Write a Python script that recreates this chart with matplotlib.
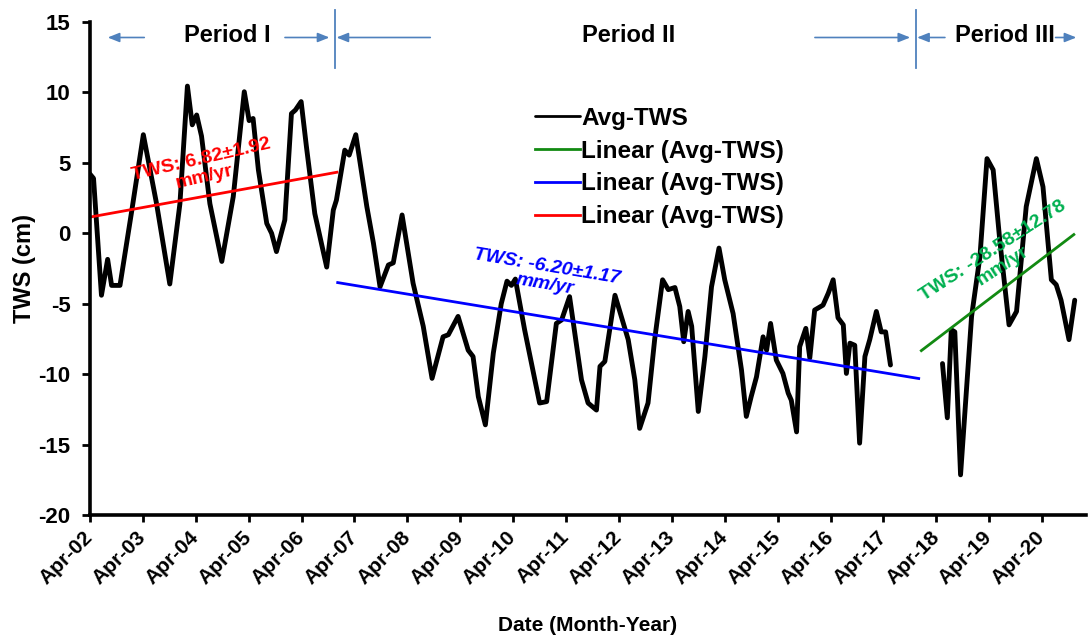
import matplotlib
matplotlib.use("Agg")
import matplotlib.pyplot as plt
import numpy as np

plt.rcParams['font.family'] = ['Liberation Sans', 'DejaVu Sans']
plt.rcParams['font.weight'] = 'bold'

# ---- Data: months since Apr-2002 and average TWS (cm) ----
grace_months = [0, 0.8, 2.6, 4.0, 4.9, 6.8, 9.5, 12.1, 15.1, 18.1, 20.4, 22.1, 23.2, 24.2,
                25.3, 27.2, 29.9, 32.5, 35.0, 36.1, 37.0, 38.2, 40.1, 41.2, 42.3, 44.2,
                45.7, 46.6, 47.9, 49.1, 51.0, 53.7, 55.2, 55.9, 57.8, 58.8, 60.3, 62.8,
                64.3, 65.8, 67.7, 68.8, 70.8, 73.3, 75.6, 77.6, 80.1, 81.3, 83.5, 85.8,
                86.9, 88.1, 89.7, 91.5, 93.3, 94.6, 95.6, 96.5, 98.6, 102.0, 103.6,
                105.8, 107.0, 108.8, 111.5, 113.0, 114.9, 115.7, 116.8, 119.1, 122.1,
                123.6, 124.7, 126.6, 128.1, 129.9, 131.2, 132.7, 133.8, 134.7, 135.7,
                136.5, 138.0, 139.5, 141.0, 142.7, 144.0, 145.9, 147.8, 148.9, 150.0,
                151.2, 152.7, 153.5, 154.4, 155.7, 157.2, 158.4, 159.1, 160.3, 161.0,
                162.4, 163.3, 164.4, 166.3, 167.5, 168.6, 169.7, 170.9, 171.6, 172.4,
                173.5, 174.6, 175.8, 176.9, 178.4, 179.5, 180.5, 181.6]
grace_tws = [4.2, 3.9, -4.4, -1.85, -3.7, -3.7, 1.65, 7.0, 2.1, -3.6, 2.1, 10.45, 7.7, 8.4,
             6.9, 2.1, -2.0, 2.6, 10.05, 8.0, 8.15, 4.5, 0.7, 0.0, -1.3, 0.95,
             8.5, 8.75, 9.35, 6.15, 1.4, -2.4, 1.65, 2.35, 5.9, 5.55, 7.0, 1.9,
             -0.7, -3.8, -2.25, -2.1, 1.3, -3.55, -6.6, -10.3, -7.35, -7.2, -5.9, -8.3,
             -8.75, -11.6, -13.6, -8.5, -5.0, -3.4, -3.7, -3.25, -6.85, -12.05, -11.95,
             -6.4, -6.15, -4.5, -10.4, -12.05, -12.55, -9.45, -9.1, -4.4, -7.55,
             -10.4, -13.85, -12.05, -7.55, -3.3, -4.0, -3.85, -5.2, -7.7, -5.55,
             -6.6, -12.65, -8.75, -3.8, -1.05, -3.3, -5.7, -9.7, -13.0, -11.6,
             -10.2, -7.35, -8.3, -6.4, -9.0, -9.95, -11.35, -11.85, -14.1, -8.05,
             -6.75, -8.85, -5.45, -5.1, -4.25, -3.3, -6.0, -6.5, -9.95, -7.8,
             -7.95, -14.9, -8.75, -7.55, -5.55, -7.0, -7.0, -9.35]

fo_months = [193.4, 194.5, 195.4, 196.2, 197.5, 200.0, 201.9, 203.5, 204.9, 206.4,
             208.5, 210.2, 212.4, 214.7, 216.2, 218.1, 219.2, 220.3, 222.1, 223.4]
fo_tws = [-9.25, -13.1, -6.85, -7.0, -17.15, -5.9, -1.65, 5.3, 4.5, -0.5,
          -6.5, -5.55, 1.9, 5.3, 3.3, -3.3, -3.65, -4.75, -7.55, -4.75]

# Linear trends per period: (start year, end year, start value cm, rate mm/yr)
trend_red = (0.0, 4.667, 1.15, 6.82)
trend_blue = (4.683, 15.667, -3.5, -6.20)
trend_green = (15.717, 18.6, -8.33, 28.58)

trend_text_red = "TWS: 6.82\u00b11.92\nmm/yr"
trend_text_blue = "TWS: -6.20\u00b11.17\nmm/yr"
trend_text_green = "TWS: -28.58\u00b112.78\nmm/yr"

year_labels = ["Apr-%02d" % y for y in range(2, 21)]
y_ticks = [-20, -15, -10, -5, 0, 5, 10, 15]

period_names = ["Period I", "Period II", "Period III"]
period_centers = [2.60, 10.18, 17.29]
period_breaks = [4.63, 15.61]

# ---- Figure ----
fig = plt.figure(figsize=(10.88, 6.44), dpi=100)
ax = fig.add_axes([90/1088, 1 - 515/644, (1086 - 90)/1088, (515 - 22)/644])

x1 = np.array(grace_months) / 12.0
x3 = np.array(fo_months) / 12.0
l_avg, = ax.plot(x1, grace_tws, color='black', lw=3.5, solid_joinstyle='round',
                 solid_capstyle='round', label='Avg-TWS')
ax.plot(x3, fo_tws, color='black', lw=3.5, solid_joinstyle='round', solid_capstyle='round')


def trend_line(t, color):
    xs = np.array([t[0], t[1]])
    ys = t[2] + t[3] / 10.0 * (xs - t[0])
    line, = ax.plot(xs, ys, color=color, lw=2.0, label='Linear (Avg-TWS)')
    return line


l_green = trend_line(trend_green, '#128A12')
l_blue = trend_line(trend_blue, '#0000FF')
l_red = trend_line(trend_red, '#FF0000')

ax.text(2.13, 4.6, trend_text_red, color='#FF0000', fontsize=14, fontweight='bold',
        rotation=13, ha='center', va='center', rotation_mode='anchor',
        multialignment='center', linespacing=1.05)
ax.text(8.62, -3.03, trend_text_blue, color='#0000FF', fontsize=14, fontweight='bold',
        fontstyle='italic', rotation=-9.5, ha='center', va='center', rotation_mode='anchor',
        multialignment='center', linespacing=1.05)
ax.text(17.16, -1.76, trend_text_green, color='#00B050', fontsize=14, fontweight='bold',
        rotation=33, ha='center', va='center', rotation_mode='anchor',
        multialignment='center', linespacing=1.05)

# ---- Period annotations ----
arrow_col = '#4F81BD'
arrow_y = 13.9
arrows = [(1.026, 0.335), (3.686, 4.527), (6.433, 4.660),
          (13.705, 15.507), (16.163, 15.637), (18.255, 18.648)]
for tail, head in arrows:
    ax.annotate('', xy=(head, arrow_y), xytext=(tail, arrow_y),
                arrowprops=dict(arrowstyle='-|>,head_length=0.7,head_width=0.28',
                                color=arrow_col, lw=1.2, shrinkA=0, shrinkB=0),
                annotation_clip=False)
for xb in period_breaks:
    ax.plot([xb, xb], [11.7, 15.85], color=arrow_col, lw=1.3, clip_on=False)
for name, xc in zip(period_names, period_centers):
    ax.text(xc, 14.05, name, fontsize=17, fontweight='bold', ha='center', va='center')

# ---- Axes styling ----
ax.set_xlim(0, 18.83)
ax.set_ylim(-20, 15)
ax.set_yticks(y_ticks)
ax.set_yticklabels([str(v) for v in y_ticks], fontsize=16, fontweight='bold')
ax.set_xticks(np.arange(len(year_labels)))
ax.set_xticklabels(year_labels, fontsize=15, fontweight='bold', rotation=45,
                   ha='right', va='center', rotation_mode='anchor')
ax.spines['top'].set_visible(False)
ax.spines['right'].set_visible(False)
ax.spines['left'].set_linewidth(2.6)
ax.spines['bottom'].set_linewidth(2.6)
ax.tick_params(axis='y', direction='out', length=6, width=2, pad=8)
ax.tick_params(axis='x', direction='out', length=5, width=2, pad=9)

ax.set_ylabel('TWS (cm)', fontsize=17, fontweight='bold', labelpad=2)
ax.set_xlabel('Date (Month-Year)', fontsize=15, fontweight='bold', labelpad=20)

leg = ax.legend(handles=[l_avg, l_green, l_blue, l_red], loc='upper left',
                bbox_to_anchor=(535/1088, 1 - 107/644), bbox_transform=fig.transFigure,
                frameon=False, borderpad=0, borderaxespad=0, handlelength=1.85,
                handletextpad=0.05, labelspacing=0.4,
                prop={'family': 'Liberation Sans', 'weight': 'bold', 'size': 17.5})
for ln in leg.get_lines():
    ln.set_linewidth(2.0)

fig.savefig('out.png', dpi=100)
